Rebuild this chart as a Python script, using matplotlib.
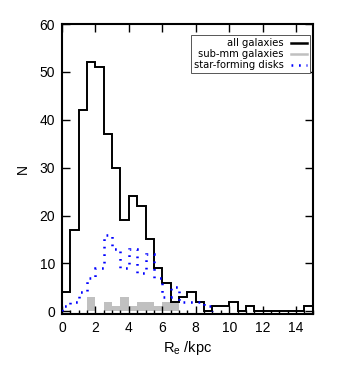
import numpy as np
import matplotlib.pyplot as plt
from matplotlib.ticker import MultipleLocator
from matplotlib.lines import Line2D

plt.rcParams['font.family'] = ['Liberation Sans', 'DejaVu Sans']

# bins of 0.5 kpc
edges_all = np.arange(0, 15.01, 0.5)
n_all = [4, 17, 42, 52, 51, 37, 30, 19, 24, 22, 15, 9, 6, 2, 3, 4, 2, 0,
         1, 1, 2, 0, 1, 0, 0, 0, 0, 0, 0, 1]

edges_smm = np.arange(1.5, 7.01, 0.5)
n_smm = [3, 0, 2, 1, 3, 1, 2, 2, 1, 2, 2]

edges_disk = np.arange(0, 9.01, 0.5)
n_disk = [1, 2, 4, 7, 9, 16, 13, 9, 13, 8, 12, 7, 3, 5, 2, 2, 2, 1]

fig = plt.figure(figsize=(3.6, 3.82), dpi=100)
ax = fig.add_axes([0.172, 0.179, 0.697, 0.758])

ax.stairs(n_smm, edges_smm, fill=True, color='#c0c0c0', baseline=0, zorder=1)
ax.stairs(n_all, edges_all, color='black', lw=1.4, baseline=0, zorder=3)
ax.stairs(n_disk, edges_disk, color='blue', lw=1.8, linestyle=(0, (0.7, 2.3)),
          baseline=0, zorder=4)

ax.set_xlim(0, 15)
ax.set_ylim(-0.5, 60)
ax.xaxis.set_major_locator(MultipleLocator(2))
ax.xaxis.set_minor_locator(MultipleLocator(0.5))
ax.yaxis.set_major_locator(MultipleLocator(10))
ax.tick_params(which='major', direction='in', top=True, right=True,
               length=6, width=1, labelsize=10, pad=5)
ax.tick_params(which='minor', direction='in', top=False, right=False,
               length=3, width=1)
ax.tick_params(axis='y', which='minor', left=False)
for s in ax.spines.values():
    s.set_linewidth(1.5)

ax.set_xlabel('R$_\\mathregular{e}$ /kpc', fontsize=10.5, labelpad=3)
ax.set_ylabel('N', fontsize=10, labelpad=7)

handles = [Line2D([], [], color='black', lw=1.8),
           Line2D([], [], color='#c0c0c0', lw=1.8),
           Line2D([], [], color='blue', lw=1.8, linestyle=(0, (0.7, 2.3)))]
labels = ['all galaxies', 'sub-mm galaxies', 'star-forming disks']
leg = ax.legend(handles, labels, loc='upper right',
                prop={'family': 'DejaVu Sans', 'size': 7.2},
                markerfirst=False, fancybox=False, framealpha=1,
                edgecolor='#555555', handlelength=1.6, handletextpad=0.7,
                labelspacing=0.12, borderpad=0.3, borderaxespad=0,
                bbox_to_anchor=(0.988, 0.962))
leg.get_frame().set_linewidth(0.7)
for t in leg.get_texts():
    t.set_ha('right')

fig.savefig('out.png', dpi=100)
